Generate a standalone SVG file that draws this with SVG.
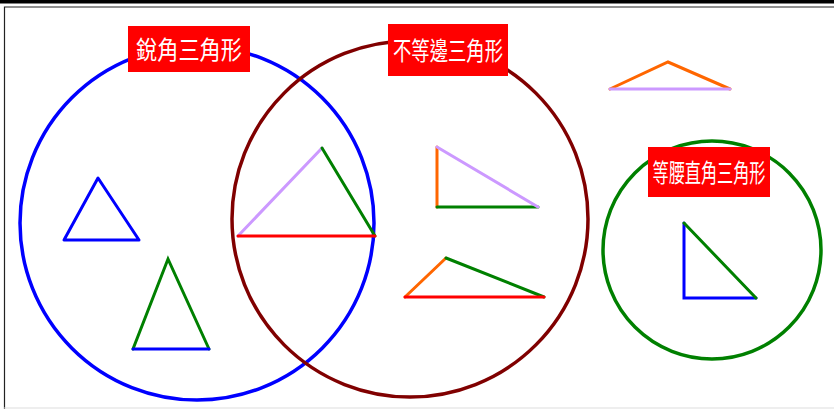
<svg xmlns="http://www.w3.org/2000/svg" width="834" height="409" viewBox="0 0 834 409">
<style>
.c{fill:none;stroke-width:3.5}
.s{stroke-width:3;stroke-linecap:round;fill:none}
.lb{fill:#ff0000}
.lt{fill:#ffffff;font-family:"Noto Sans CJK TC","Noto Sans CJK SC",sans-serif;font-size:25px;text-anchor:middle}
</style>
<rect width="834" height="409" fill="#ffffff"/>
<rect x="0" y="0" width="834" height="3.5" fill="#000"/>
<path d="M4.5 409 V7 H834" fill="none" stroke="#222" stroke-width="1.2"/>
<line x1="4" y1="408" x2="834" y2="408" stroke="#ddd" stroke-width="1"/>
<g id="circles">
<circle id="acute" cx="197" cy="223" r="177" class="c" stroke="#0000ff"/>
<circle id="scalene" cx="410" cy="219" r="178" class="c" stroke="#800000"/>
<circle id="isoright" cx="712" cy="250" r="109" class="c" stroke="#008000"/>
</g>
<g id="triangles">
<g id="t1"><polygon points="98,178 64,240 139,240" class="s" stroke="#0000ff" stroke-linejoin="round"/></g>
<g id="t2"><path d="M133,349 L168,259 L209,349" class="s" stroke="#008000"/><line x1="133" y1="349" x2="209" y2="349" class="s" stroke="#0000ff"/></g>
<g id="t3"><line x1="238" y1="236" x2="322" y2="148" class="s" stroke="#cc99ff"/><line x1="322" y1="148" x2="375" y2="236" class="s" stroke="#008000"/><line x1="238" y1="236" x2="375" y2="236" class="s" stroke="#ff0000"/></g>
<g id="t4"><line x1="437" y1="147" x2="437" y2="207" class="s" stroke="#ff6600"/><line x1="437" y1="207" x2="538" y2="207" class="s" stroke="#008000"/><line x1="437" y1="147" x2="538" y2="207" class="s" stroke="#cc99ff"/></g>
<g id="t5"><line x1="405" y1="297" x2="446" y2="258" class="s" stroke="#ff6600"/><line x1="446" y1="258" x2="544" y2="297" class="s" stroke="#008000"/><line x1="405" y1="297" x2="544" y2="297" class="s" stroke="#ff0000"/></g>
<g id="t6"><path d="M610,89 L668,62 L730,89" class="s" stroke="#ff6600"/><line x1="610" y1="89" x2="730" y2="89" class="s" stroke="#cc99ff"/></g>
<g id="t7"><path d="M684,223 L684,298 L756,298" class="s" stroke="#0000ff"/><line x1="684" y1="223" x2="756" y2="298" class="s" stroke="#008000"/></g>
</g>
<g id="label-acute"><rect x="128" y="26" width="122" height="46" class="lb"/><text x="189" y="59" class="lt" textLength="106" lengthAdjust="spacingAndGlyphs">銳角三角形</text></g>
<g id="label-scalene"><rect x="388" y="24" width="120" height="52" class="lb"/><text x="448" y="60" class="lt" textLength="110" lengthAdjust="spacingAndGlyphs">不等邊三角形</text></g>
<g id="label-isoright"><rect x="648" y="147" width="122" height="50" class="lb"/><text x="709" y="182" class="lt" textLength="113" lengthAdjust="spacingAndGlyphs">等腰直角三角形</text></g>
</svg>
